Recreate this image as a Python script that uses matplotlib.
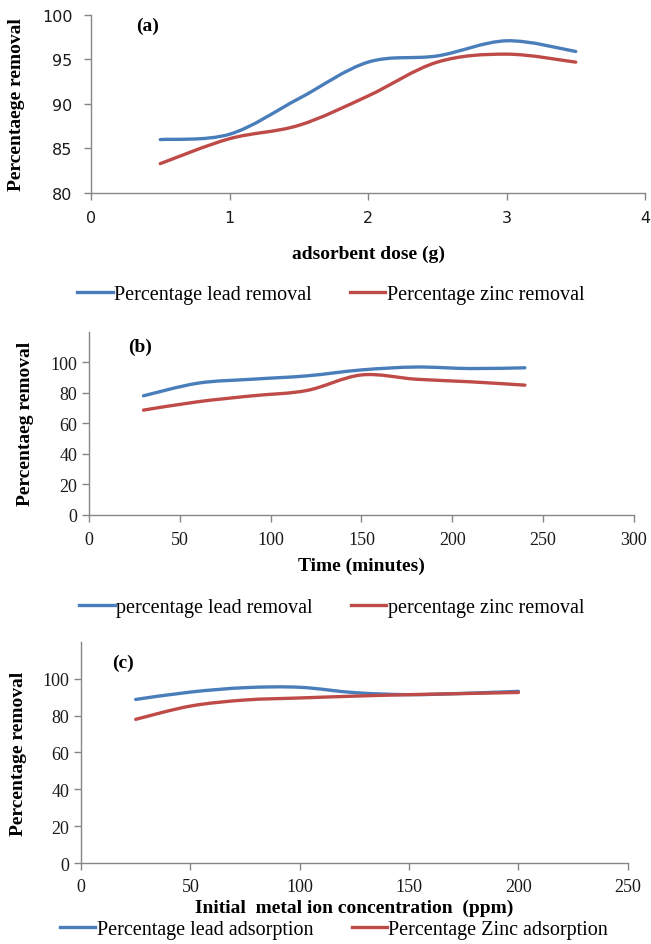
import matplotlib
matplotlib.use('Agg')
import matplotlib.pyplot as plt
from matplotlib.path import Path
from matplotlib.patches import PathPatch
from matplotlib.lines import Line2D

# (a) adsorbent dose
dose_g = [0.5, 1.0, 1.5, 2.0, 2.5, 3.0, 3.5]
dose_lead = [86.0, 86.6, 90.6, 94.7, 95.4, 97.1, 95.9]
dose_zinc = [83.3, 86.1, 87.6, 90.9, 94.7, 95.6, 94.7]

# (b) contact time
time_min = [30, 60, 90, 120, 150, 180, 210, 240]
time_lead = [78.1, 86.4, 89.0, 91.2, 95.1, 97.0, 96.0, 96.5]
time_zinc = [68.7, 74.2, 78.1, 81.6, 91.8, 89.0, 87.3, 85.1]

# (c) initial concentration
conc_ppm = [25, 50, 75, 100, 125, 150, 175, 200]
conc_lead = [88.8, 92.8, 95.2, 95.4, 92.5, 91.4, 92.1, 93.2]
conc_zinc = [78.0, 85.2, 88.5, 89.6, 90.6, 91.4, 92.0, 92.6]

BLUE = '#4a7ebb'
RED = '#be4b48'
AXIS = '#868686'
SERIF = ['Liberation Serif', 'DejaVu Serif']


def smooth_line(ax, xs, ys, color):
    # Excel-style smoothed line: cubic bezier through every data point
    pts = list(zip(xs, ys))
    n = len(pts)
    verts = [pts[0]]
    codes = [Path.MOVETO]
    for i in range(n - 1):
        p0 = pts[max(i - 1, 0)]
        p1 = pts[i]
        p2 = pts[i + 1]
        p3 = pts[min(i + 2, n - 1)]
        c1 = (p1[0] + (p2[0] - p0[0]) / 6, p1[1] + (p2[1] - p0[1]) / 6)
        c2 = (p2[0] - (p3[0] - p1[0]) / 6, p2[1] - (p3[1] - p1[1]) / 6)
        verts += [c1, c2, p2]
        codes += [Path.CURVE4] * 3
    patch = PathPatch(Path(verts, codes), facecolor='none', edgecolor=color,
                      lw=2.4, capstyle='round', joinstyle='round')
    ax.add_patch(patch)


def style_axes(ax, tick_font, tick_size, xpad, ypad):
    for side in ['top', 'right']:
        ax.spines[side].set_visible(False)
    for side in ['left', 'bottom']:
        ax.spines[side].set_color(AXIS)
        ax.spines[side].set_linewidth(1.0)
    ax.tick_params(direction='out', length=5, color=AXIS, width=1.0,
                   labelsize=tick_size, labelcolor='#1a1a1a')
    ax.tick_params(axis='x', pad=xpad)
    ax.tick_params(axis='y', pad=ypad)
    for lab in ax.get_xticklabels() + ax.get_yticklabels():
        lab.set_family(tick_font)


def label_axes(ax, xlabel, xy, ylabel, yx):
    ax.set_xlabel(xlabel, family=SERIF, weight='bold', size=14)
    ax.xaxis.set_label_coords(0.5, xy)
    ax.xaxis.label.set_va('center')
    ax.set_ylabel(ylabel, family=SERIF, weight='bold', size=14)
    ax.yaxis.set_label_coords(yx, 0.5)
    ax.yaxis.label.set_va('center')


def add_legend(fig, labels, cx, cy):
    handles = [Line2D([], [], color=BLUE, lw=2.4), Line2D([], [], color=RED, lw=2.4)]
    fig.legend(handles, labels, loc='center', bbox_to_anchor=(cx, cy), ncol=2,
               frameon=False, handlelength=1.75, handletextpad=0.08, columnspacing=1.9,
               prop={'family': SERIF, 'size': 14.5})


fig = plt.figure(figsize=(6.51, 9.45), dpi=100)

# ---- panel (a)
ax1 = fig.add_axes([0.1398, 0.7947, 0.851, 0.1884])
smooth_line(ax1, dose_g, dose_lead, BLUE)
smooth_line(ax1, dose_g, dose_zinc, RED)
ax1.set_xlim(0, 4)
ax1.set_ylim(80, 100)
ax1.set_xticks([0, 1, 2, 3, 4])
ax1.set_yticks([80, 85, 90, 95, 100])
style_axes(ax1, ['DejaVu Sans'], 11.5, 7.5, 8.5)
label_axes(ax1, 'adsorbent dose (g)', -0.34, 'Percentaege removal', -0.134)
ax1.text(0.102, 0.941, '(a)', transform=ax1.transAxes, family=SERIF,
         weight='bold', size=14, ha='center', va='center')
add_legend(fig, ['Percentage lead removal', 'Percentage zinc removal'],
           331 / 651, 1 - 295 / 945)

# ---- panel (b)
ax2 = fig.add_axes([0.1367, 0.4543, 0.837, 0.1933])
smooth_line(ax2, time_min, time_lead, BLUE)
smooth_line(ax2, time_min, time_zinc, RED)
ax2.set_xlim(0, 300)
ax2.set_ylim(0, 120)
ax2.set_xticks([0, 50, 100, 150, 200, 250, 300])
ax2.set_yticks([0, 20, 40, 60, 80, 100])
style_axes(ax2, SERIF, 13, 6.5, 3.5)
label_axes(ax2, 'Time (minutes)', -0.28, 'Percentaeg removal', -0.117)
ax2.text(0.094, 0.921, '(b)', transform=ax2.transAxes, family=SERIF,
         weight='bold', size=14, ha='center', va='center')
add_legend(fig, ['percentage lead removal', 'percentage zinc removal'],
           332 / 651, 1 - 608 / 945)

# ---- panel (c)
ax3 = fig.add_axes([0.1244, 0.0857, 0.840, 0.2339])
smooth_line(ax3, conc_ppm, conc_lead, BLUE)
smooth_line(ax3, conc_ppm, conc_zinc, RED)
ax3.set_xlim(0, 250)
ax3.set_ylim(0, 120)
ax3.set_xticks([0, 50, 100, 150, 200, 250])
ax3.set_yticks([0, 20, 40, 60, 80, 100])
style_axes(ax3, SERIF, 13, 6, 3.5)
label_axes(ax3, 'Initial  metal ion concentration  (ppm)', -0.2,
           'Percentage removal', -0.114)
ax3.text(0.076, 0.907, '(c)', transform=ax3.transAxes, family=SERIF,
         weight='bold', size=14, ha='center', va='center')
add_legend(fig, ['Percentage lead adsorption', 'Percentage Zinc adsorption'],
           334 / 651, 1 - 930 / 945)

fig.savefig('out.png', dpi=100, facecolor='white')
